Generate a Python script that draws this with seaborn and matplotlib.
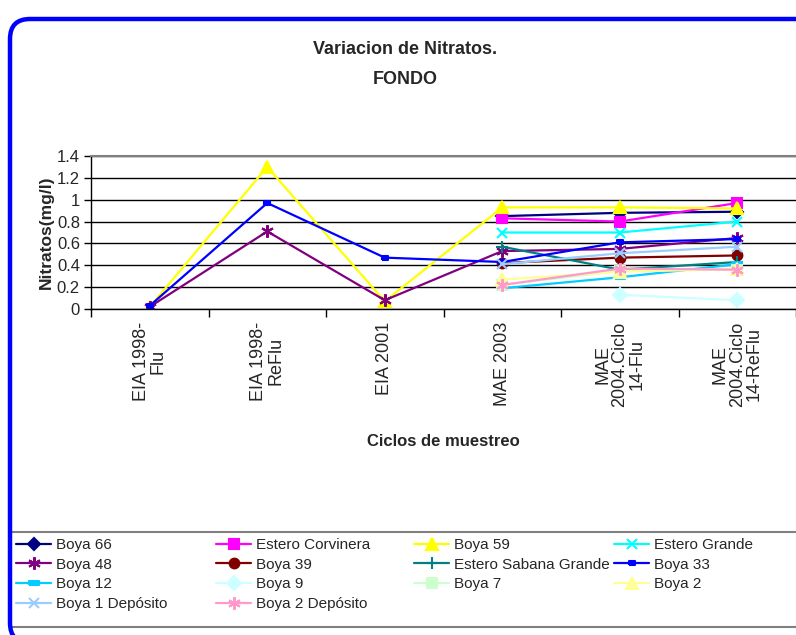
import numpy as np
import pandas as pd
import matplotlib
matplotlib.use("Agg")
import matplotlib.pyplot as plt
import seaborn as sns
from matplotlib.patches import FancyBboxPatch, Rectangle
from matplotlib.lines import Line2D

# ---- data -------------------------------------------------------------
ciclos = ["EIA 1998-\nFlu", "EIA 1998-\nReFlu", "EIA 2001", "MAE 2003",
          "MAE\n2004.Ciclo\n14-Flu", "MAE\n2004.Ciclo\n14-ReFlu"]

nan = np.nan
boya_66 = [nan, nan, nan, 0.85, 0.88, 0.89]
estero_corvinera = [nan, nan, nan, 0.83, 0.80, 0.97]
boya_59 = [0.02, 1.30, 0.07, 0.93, 0.93, 0.92]
estero_grande = [nan, nan, nan, 0.70, 0.70, 0.80]
boya_48 = [0.02, 0.71, 0.08, 0.53, 0.55, 0.65]
boya_39 = [nan, nan, nan, 0.42, 0.47, 0.49]
estero_sabana_grande = [nan, nan, nan, 0.57, 0.36, 0.43]
boya_33 = [0.03, 0.97, 0.47, 0.43, 0.61, 0.64]
boya_12 = [nan, nan, nan, 0.19, 0.29, 0.41]
boya_9 = [nan, nan, nan, nan, 0.13, 0.08]
boya_7 = [nan, nan, nan, 0.22, 0.35, 0.36]
boya_2 = [nan, nan, nan, 0.27, 0.34, 0.37]
boya_1_deposito = [nan, nan, nan, 0.41, 0.51, 0.57]
boya_2_deposito = [nan, nan, nan, 0.22, 0.37, 0.36]

series_names = ["Boya 66", "Estero Corvinera", "Boya 59", "Estero Grande",
                "Boya 48", "Boya 39", "Estero Sabana Grande", "Boya 33",
                "Boya 12", "Boya 9", "Boya 7", "Boya 2",
                "Boya 1 Depósito", "Boya 2 Depósito"]
series_values = [boya_66, estero_corvinera, boya_59, estero_grande,
                 boya_48, boya_39, estero_sabana_grande, boya_33,
                 boya_12, boya_9, boya_7, boya_2,
                 boya_1_deposito, boya_2_deposito]

# ---- styles -----------------------------------------------------------
dash_small = [(-1, -0.45), (1, -0.45), (1, 0.45), (-1, 0.45), (-1, -0.45)]
asterisk = (6, 2, 0)
styles = {
    "Boya 66": ("#000080", "D", 6),
    "Estero Corvinera": ("#FF00FF", "s", 7),
    "Boya 59": ("#FFFF00", "^", 9),
    "Estero Grande": ("#00FFFF", "x", 7),
    "Boya 48": ("#800080", asterisk, 9),
    "Boya 39": ("#800000", "o", 7),
    "Estero Sabana Grande": ("#008080", "+", 9),
    "Boya 33": ("#0000FF", dash_small, 5),
    "Boya 12": ("#00CCFF", dash_small, 7),
    "Boya 9": ("#CCFFFF", "D", 7),
    "Boya 7": ("#CCFFCC", "s", 7),
    "Boya 2": ("#FFFF99", "^", 9),
    "Boya 1 Depósito": ("#99CCFF", "x", 7),
    "Boya 2 Depósito": ("#FF99CC", asterisk, 9),
}

rows = []
for name, vals in zip(series_names, series_values):
    for i, v in enumerate(vals):
        rows.append({"serie": name, "pos": i, "valor": v})
df = pd.DataFrame(rows).dropna()

# ---- figure -----------------------------------------------------------
sns.set_style("white")
plt.rcParams["font.family"] = ["Liberation Sans", "DejaVu Sans"]

W, H = 796, 635
fig = plt.figure(figsize=(W / 100, H / 100), dpi=100)
fig.patch.set_facecolor("white")

ax = fig.add_axes([91 / W, 1 - 309 / H, (W - 91) / W, (309 - 156) / H])

for name in series_names:
    color, marker, ms = styles[name]
    sub = df[df["serie"] == name]
    sns.lineplot(data=sub, x="pos", y="valor", ax=ax, color=color,
                 marker=marker, markersize=ms, markeredgecolor=color,
                 markerfacecolor=color, markeredgewidth=1.5,
                 linewidth=1.6, estimator=None, errorbar=None, sort=False,
                 legend=False)

ax.set_xlim(-0.5, len(ciclos) - 0.5)
ax.set_ylim(0, 1.4)
ax.set_yticks(np.arange(0, 1.41, 0.2))
ax.set_yticklabels(["0", "0.2", "0.4", "0.6", "0.8", "1", "1.2", "1.4"])
ax.yaxis.grid(True, color="black", linewidth=1.0)
ax.set_axisbelow(True)

# category boundary ticks (major) and centred labels (minor)
ax.set_xticks(np.arange(-0.5, len(ciclos), 1.0))
ax.set_xticklabels([])
ax.set_xticks(np.arange(len(ciclos)), minor=True)
ax.set_xticklabels(ciclos, minor=True, rotation=90, fontsize=13,
                   va="top", ha="center", multialignment="center",
                   linespacing=1.0)
ax.tick_params(axis="x", which="major", direction="out", length=6,
               width=1, color="black", bottom=True)
ax.tick_params(axis="x", which="minor", length=0, pad=9)
ax.tick_params(axis="y", direction="out", length=5, width=1,
               color="black", left=True, labelsize=12, pad=3)
ax.set_xlabel("")
ax.set_ylabel("")

for s in ["left", "bottom"]:
    ax.spines[s].set_color("black")
    ax.spines[s].set_linewidth(1.0)
ax.spines["top"].set_color("#808080")
ax.spines["top"].set_linewidth(1.5)
ax.spines["right"].set_visible(False)

# titles and axis labels
fig.text(405 / W, 1 - 49 / H, "Variacion de Nitratos.", ha="center",
         va="center", fontsize=13, weight="bold")
fig.text(405 / W, 1 - 80 / H, "FONDO", ha="center", va="center",
         fontsize=13, weight="bold")
fig.text(46 / W, 1 - 232 / H, "Nitratos(mg/l)", rotation=90, ha="center",
         va="center", fontsize=12.5, weight="bold")
fig.text(443 / W, 1 - 441 / H, "Ciclos de muestreo", ha="center",
         va="center", fontsize=12, weight="bold")

# legend: four fixed columns, filled row by row
handles = []
for name in series_names:
    color, marker, ms = styles[name]
    handles.append(Line2D([], [], color=color, marker=marker, markersize=ms,
                          markeredgecolor=color, markerfacecolor=color,
                          markeredgewidth=1.5, linewidth=1.6))
col_x = [16, 216, 414, 614]
for c in range(4):
    idx = list(range(c, len(series_names), 4))
    fig.legend([handles[i] for i in idx], [series_names[i] for i in idx],
               loc="upper left", bbox_to_anchor=(col_x[c] / W, 1 - 538 / H),
               frameon=False, fontsize=11, handlelength=2.3,
               handletextpad=0.3, labelspacing=0.37, borderpad=0,
               borderaxespad=0, numpoints=1)

# legend box lines
fig.patches.append(Rectangle((10, H - 627), 820, 95, transform=None,
                             fill=False, edgecolor="#808080", linewidth=1.5))

# rounded blue chart border
fig.patches.append(FancyBboxPatch((10, -8), 840, H - 19 + 8, transform=None,
                                  boxstyle="round,pad=0,rounding_size=20",
                                  fill=False, edgecolor="#0000FF",
                                  linewidth=3.2))

fig.savefig("out.png", dpi=100, facecolor="white")
